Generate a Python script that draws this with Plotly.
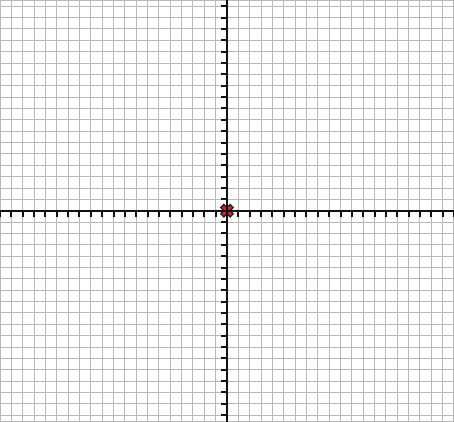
import plotly.graph_objects as go

# data
point_x = [0]
point_y = [0]
x_range = [-20, 20]
y_range = [-18.6, 18.55]

W, H = 454, 422
y0_frac = (0 - y_range[0]) / (y_range[1] - y_range[0])

fig = go.Figure()
fig.add_trace(go.Scatter(
    x=point_x, y=point_y, mode="markers",
    marker=dict(symbol="x", size=11, color="#e01f26",
                line=dict(color="#2a1a1a", width=1.5)),
    hoverinfo="skip", showlegend=False, cliponaxis=False))

grid_color = "#b8b8b8"
fig.update_xaxes(range=x_range, dtick=1, tick0=0, showgrid=True, gridcolor=grid_color,
                 gridwidth=1, zeroline=False, showline=True, linecolor="#111111",
                 linewidth=2, ticks="outside", ticklen=5, tickwidth=2, tickcolor="#111111",
                 showticklabels=False, anchor="free", position=y0_frac, fixedrange=True)
fig.update_yaxes(range=y_range, dtick=1, tick0=0, showgrid=True, gridcolor=grid_color,
                 gridwidth=1, zeroline=False, showline=True, linecolor="#111111",
                 linewidth=2, ticks="outside", ticklen=5, tickwidth=2, tickcolor="#111111",
                 showticklabels=False, anchor="free", position=0.5, fixedrange=True)

fig.add_shape(type="rect", xref="paper", yref="paper", x0=0, y0=0, x1=1, y1=1,
              line=dict(color="#b8b8b8", width=2), layer="below")

fig.update_layout(width=W, height=H, margin=dict(l=0, r=0, t=0, b=0),
                  paper_bgcolor="white", plot_bgcolor="white")

fig.write_html("out.html", config={"displayModeBar": False},
               post_script="document.body.style.margin='0';document.body.style.overflow='hidden';")
